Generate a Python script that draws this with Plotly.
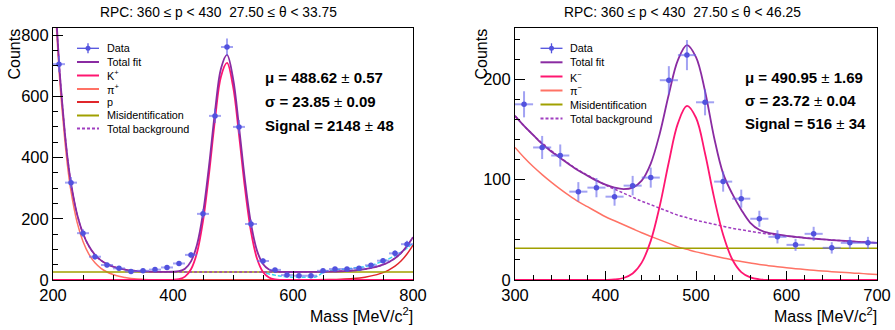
import plotly.graph_objects as go

W, H = 895, 330

# ---------------- LEFT PANEL DATA (K+) ----------------
title_L = "RPC: 360 \u2264 p < 430 \u00a027.50 \u2264 \u03b8 < 33.75"
mass_L = [210, 230, 250, 270, 290, 310, 330, 350, 370, 390, 410, 430, 450, 470, 490,
          510, 530, 550, 570, 590, 610, 630, 650, 670, 690, 710, 730, 750, 770, 790]
counts_L = [705, 318, 153, 76, 49, 38, 28, 30, 34, 41, 54, 82, 216, 536, 761,
            500, 183, 62, 33, 16, 14, 14, 30, 36, 36, 38, 48, 63, 87, 117]
err_L = [26.5, 18, 12.4, 8.7, 7, 6.2, 5.3, 5.5, 5.8, 6.4, 7.3, 9, 14.7, 23, 27.6,
         22.4, 13.5, 7.9, 5.7, 4, 3.7, 3.7, 5.5, 6, 6, 6.2, 6.9, 7.9, 9.3, 10.8]
bin_half_L = 10

fit_x_L = [200, 205, 210, 215, 220, 225, 230, 240, 250, 260, 270, 280, 290, 300, 310, 320,
           330, 340, 350, 360, 380, 400, 410, 420, 430, 440, 450, 460, 470, 480, 490, 500,
           510, 520, 530, 540, 550, 560, 570, 580, 600, 620, 640, 660, 680, 700, 720, 740,
           750, 760, 770, 780, 790, 800]
pion_L = [1056, 850, 686, 560, 450, 360, 290, 190, 126, 84, 56, 38, 26, 18, 12, 8,
          5, 3, 2, 1.2, 0.5, 0.2, 0, 0, 0, 0, 0, 0, 0, 0, 0, 0,
          0, 0, 0, 0, 0, 0, 0, 0, 0, 0, 0, 0, 0, 0, 0, 0,
          0, 0, 0, 0, 0, 0]
kaon_L = [0, 0, 0, 0, 0, 0, 0, 0, 0, 0, 0, 0, 0, 0, 0, 0,
          0, 0, 0, 0, 0, 0.7, 3, 11, 35, 89, 192, 346, 524, 665, 709, 633,
          475, 299, 158, 70, 26, 8, 2, 0.5, 0, 0, 0, 0, 0, 0, 0, 0,
          0, 0, 0, 0, 0, 0]
proton_L = [0, 0, 0, 0, 0, 0, 0, 0, 0, 0, 0, 0, 0, 0, 0, 0,
            0, 0, 0, 0, 0, 0, 0, 0, 0, 0, 0, 0, 0, 0, 0, 0,
            0, 0, 0, 0, 0, 0, 0, 0, 0.2, 0.4, 0.7, 1.4, 2.6, 4.9, 9.3, 17.5,
            24, 33, 45, 62, 85, 114]
misid_L = 26
extra_x_L = [555, 575, 600, 620, 638, 652, 670, 688, 705, 721, 738, 755, 777, 790, 800]
extra_y_L = [22, 14, 9, 9, 10, 27, 33, 36, 40, 44, 53, 65, 87, 104, 120]
stats_L = [("\u03bc = 488.62", "0.57"), ("\u03c3 = 23.85", "0.09"), ("Signal = 2148", "48")]
legend_L = ["Data", "Total fit", "K<sup>+</sup>", "\u03c0<sup>+</sup>", "p",
            "Misidentification", "Total background"]

# ---------------- RIGHT PANEL DATA (K-) ----------------
title_R = "RPC: 360 \u2264 p < 430 \u00a027.50 \u2264 \u03b8 < 46.25"
mass_R = [310, 330, 350, 370, 390, 410, 430, 450, 470, 490,
          510, 530, 550, 570, 590, 610, 630, 650, 670, 690]
counts_R = [175, 132, 124, 88, 92, 83, 94, 102, 199, 224,
            177, 98, 81, 61, 43, 35, 46, 32, 37, 37]
err_R = [13, 11.5, 11, 9.5, 9.6, 9, 9.7, 10, 14, 15,
         13, 10, 9, 8, 6.6, 6, 7, 5.7, 6, 6]
bin_half_R = 10

fit_x_R = [300, 310, 320, 330, 340, 350, 360, 370, 380, 390, 400, 410, 420, 430, 440, 450,
           460, 470, 480, 490, 500, 510, 520, 530, 540, 550, 560, 570, 580, 590, 600, 610,
           620, 630, 640, 650, 660, 670, 680, 690, 700]
pion_R = [132, 122, 113, 105, 97.5, 90.5, 84, 78, 73, 68, 63, 59, 55, 51, 47, 43.5,
          40, 36.5, 33, 30.5, 28, 26, 24, 22, 20, 18.5, 17, 15.5, 14.3, 13.2, 12.2, 11.3,
          10.5, 9.7, 9, 8.3, 7.7, 7.1, 6.6, 6.1, 5.6]
kaon_R = [0, 0, 0, 0, 0, 0, 0, 0, 0, 0, 0.1, 0.5, 2, 6.4, 17.3, 39,
          74, 117.5, 156, 173.4, 161.6, 126, 82, 45, 20.7, 7.9, 2.6, 0.7, 0.15, 0, 0, 0,
          0, 0, 0, 0, 0, 0, 0, 0, 0]
total_R = [163.5, 153.5, 144.5, 135.5, 128, 121.5, 115, 109, 104, 99, 95, 92, 90.5, 92, 99, 116,
           146, 185, 219, 234, 222, 188, 142, 106, 86, 70, 57, 50, 47, 45.5, 44, 43,
           42, 41.2, 40.5, 39.8, 39.2, 38.6, 38, 37.5, 37]
misid_R = 31.5
stats_R = [("\u03bc = 490.95", "1.69"), ("\u03c3 = 23.72", "0.04"), ("Signal = 516", "34")]
legend_R = ["Data", "Total fit", "K<sup>\u2212</sup>", "\u03c0<sup>\u2212</sup>",
            "Misidentification", "Total background"]

# ---------------- styles ----------------
FONT = "Liberation Sans, Arial, Helvetica, sans-serif"
COL_DATA = "#5252DE"
COL_ERR = "rgba(100,100,235,0.6)"
COL_TOTAL = "#8A2BA2"
COL_K = "#FF1670"
COL_PI = "#FF7265"
COL_P = "#E0262B"
COL_MIS = "#A0A000"
COL_BG = "#A03EC0"
COL_EXTRA = "#3FD6F2"
BG_DASH = "3px,2px"


def px(x):
    return x / W


def py(y):
    return 1 - y / H


fig = go.Figure()


def add_panel(xa, ya, fx, comps, misid, data_x, data_y, data_err, half, extra=None, total=None):
    n = len(fx)
    mis = [misid] * n
    bg = [sum(c[i] for c in comps["bg"]) + misid for i in range(n)]
    if total is None:
        total = [bg[i] + comps["sig"][i] for i in range(n)]
    common = dict(xaxis=xa, yaxis=ya, mode="lines", showlegend=False, hoverinfo="skip")
    for ys, col in comps["bglines"]:
        fig.add_trace(go.Scatter(x=fx, y=ys, line=dict(color=col, width=1.5, shape="spline"), **common))
    fig.add_trace(go.Scatter(x=fx, y=mis, line=dict(color=COL_MIS, width=1.5), **common))
    if extra is not None:
        fig.add_trace(go.Scatter(x=extra[0], y=extra[1],
                                 line=dict(color=COL_EXTRA, width=1.5, dash="4px,2px", shape="spline"), **common))
    fig.add_trace(go.Scatter(x=fx, y=bg, line=dict(color=COL_BG, width=1.5, dash=BG_DASH, shape="spline"), **common))
    fig.add_trace(go.Scatter(x=fx, y=comps["sig"], line=dict(color=COL_K, width=1.8, shape="spline"), **common))
    fig.add_trace(go.Scatter(x=fx, y=total, line=dict(color=COL_TOTAL, width=1.8, shape="spline"), **common))
    fig.add_trace(go.Scatter(
        x=data_x, y=data_y, xaxis=xa, yaxis=ya, mode="markers", showlegend=False,
        marker=dict(color=COL_DATA, size=5.5),
        error_y=dict(type="data", array=data_err, color=COL_ERR, thickness=2, width=0),
        error_x=dict(type="constant", value=half, color=COL_ERR, thickness=2, width=0)))


add_panel("x", "y", fit_x_L,
          dict(bg=[pion_L, proton_L], sig=kaon_L,
               bglines=[(pion_L, COL_PI), (proton_L, COL_P)]),
          misid_L, mass_L, counts_L, err_L, bin_half_L, extra=(extra_x_L, extra_y_L))
add_panel("x2", "y2", fit_x_R,
          dict(bg=[pion_R], sig=kaon_R, bglines=[(pion_R, COL_PI)]),
          misid_R, mass_R, counts_R, err_R, bin_half_R, total=total_R)

axis_common = dict(showline=True, linecolor="black", linewidth=1, mirror=True,
                   ticks="inside", tickcolor="black", showgrid=False, zeroline=False,
                   automargin=False,
                   tickfont=dict(family=FONT, size=16.5, color="black"))

fig.update_layout(
    width=W, height=H, margin=dict(l=0, r=0, t=0, b=0, autoexpand=False),
    paper_bgcolor="white", plot_bgcolor="white", showlegend=False,
    xaxis=dict(domain=[px(53), px(413)], range=[200, 800], anchor="y",
               tick0=200, dtick=200, ticklen=9,
               minor=dict(tick0=200, dtick=50, ticks="inside", ticklen=5, tickcolor="black"),
               **axis_common),
    yaxis=dict(domain=[py(280), py(28)], range=[0, 823], anchor="x",
               tick0=0, dtick=200, ticklen=10,
               minor=dict(tick0=0, dtick=50, ticks="inside", ticklen=5, tickcolor="black"),
               **axis_common),
    xaxis2=dict(domain=[px(515), px(877)], range=[300, 700], anchor="y2",
                tick0=300, dtick=100, ticklen=9,
                minor=dict(tick0=300, dtick=20, ticks="inside", ticklen=5, tickcolor="black"),
                **axis_common),
    yaxis2=dict(domain=[py(280), py(28)], range=[0, 251], anchor="x2",
                tick0=0, dtick=100, ticklen=10,
                minor=dict(tick0=0, dtick=20, ticks="inside", ticklen=5, tickcolor="black"),
                **axis_common),
)

ann = []
shapes = []


def text(x, y, s, size, xanchor="left", yanchor="middle", angle=0):
    ann.append(dict(x=px(x), y=py(y), xref="paper", yref="paper", text=s, showarrow=False,
                    xanchor=xanchor, yanchor=yanchor, textangle=angle,
                    font=dict(family=FONT, size=size, color="black")))


# titles
text(218.5, 12, title_L, 13.8, xanchor="center")
text(682, 12, title_R, 13.8, xanchor="center")
# axis titles
for cx in (14, 481):
    text(cx, 27, "Counts", 16, xanchor="center", yanchor="top", angle=-90)
for rx in (415, 879):
    text(rx, 315, "Mass [MeV/c<sup>2</sup>]", 16, xanchor="right")
# stats
for (sx, rows_y, st) in ((263, [78, 101.5, 125], stats_L), (743, [77, 101, 124], stats_R)):
    for yy, (a, b) in zip(rows_y, st):
        text(sx, yy, "<b>%s</b> \u00b1 <b>%s</b>" % (a, b), 15)


def legend(labels, styles, text_x, key_x0, key_x1, rows_y):
    for lab, sty, yy in zip(labels, styles, rows_y):
        text(text_x, yy, lab, 10.8)
        col, dash = sty
        shapes.append(dict(type="line", xref="paper", yref="paper",
                           x0=px(key_x0), x1=px(key_x1), y0=py(yy), y1=py(yy),
                           line=dict(color=col, width=2 if col != COL_DATA else 1.3, dash=dash)))
        if lab == "Data":
            cx = (key_x0 + key_x1) / 2
            shapes.append(dict(type="line", xref="paper", yref="paper",
                               x0=px(cx), x1=px(cx), y0=py(yy - 5), y1=py(yy + 5),
                               line=dict(color=COL_DATA, width=1.3)))
            shapes.append(dict(type="circle", xref="paper", yref="paper",
                               x0=px(cx - 2.5), x1=px(cx + 2.5), y0=py(yy - 2.5), y1=py(yy + 2.5),
                               fillcolor=COL_DATA, line=dict(width=0)))


styles_L = [(COL_DATA, "solid"), (COL_TOTAL, "solid"), (COL_K, "solid"), (COL_PI, "solid"),
            (COL_P, "solid"), (COL_MIS, "solid"), (COL_BG, BG_DASH)]
styles_R = [(COL_DATA, "solid"), (COL_TOTAL, "solid"), (COL_K, "solid"), (COL_PI, "solid"),
            (COL_MIS, "solid"), (COL_BG, BG_DASH)]
legend(legend_L, styles_L, 105, 77, 99, [48.3, 62, 75.5, 89, 102, 115.5, 128.5])
legend(legend_R, styles_R, 567.5, 540.5, 562.5, [48.3, 62.3, 76.5, 90.5, 104.5, 118.5])

fig.update_layout(annotations=ann, shapes=shapes)
fig.write_html("out.html", config={"displayModeBar": False},
               post_script="document.body.style.margin='0';document.body.style.overflow='hidden';")
